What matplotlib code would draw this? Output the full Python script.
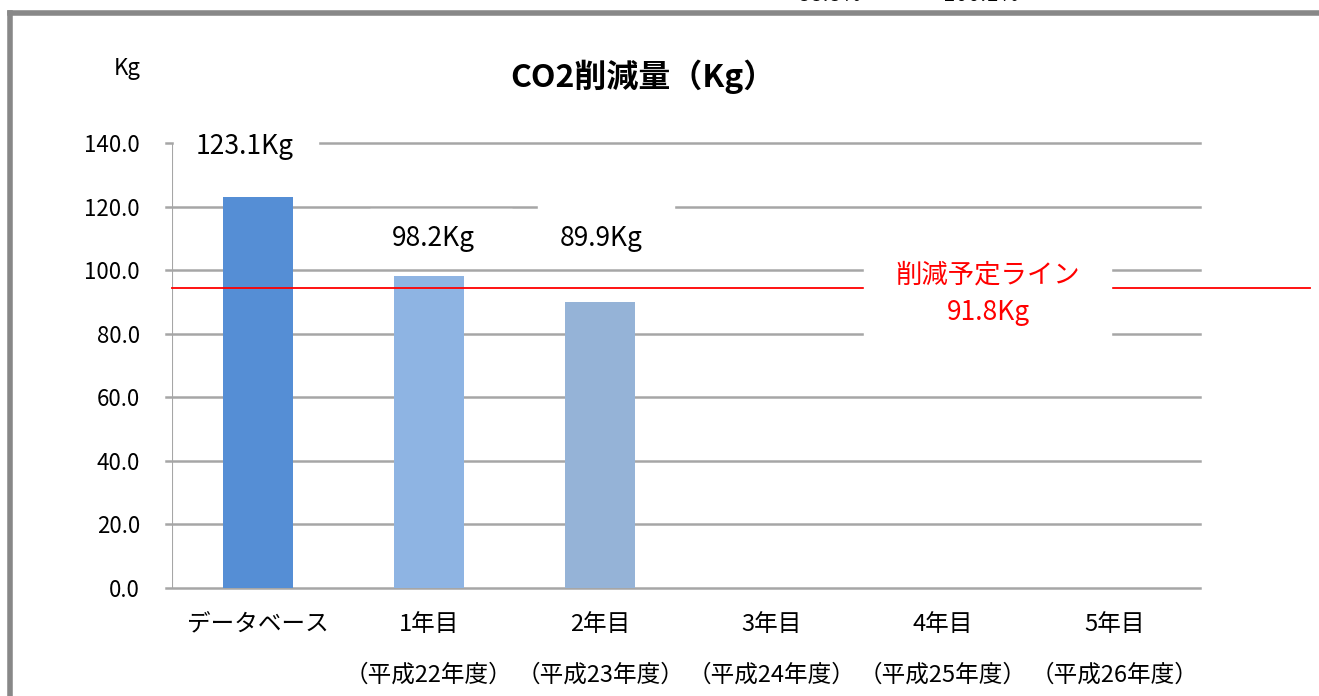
import matplotlib
matplotlib.use('Agg')
import matplotlib.pyplot as plt
from matplotlib.lines import Line2D
from matplotlib.patches import Rectangle

plt.rcParams['font.family'] = ['Noto Sans CJK JP', 'DejaVu Sans']

categories = ['データベース', '1年目', '2年目', '3年目', '4年目', '5年目']
sub_labels = ['', '（平成22年度）', '（平成23年度）', '（平成24年度）', '（平成25年度）', '（平成26年度）']
values = [123.1, 98.2, 89.9, None, None, None]
value_labels = ['123.1Kg', '98.2Kg', '89.9Kg']
bar_colors = ['#558ED5', '#8EB4E3', '#95B3D7']
yticks = [0, 20, 40, 60, 80, 100, 120, 140]
plan_line = 94.4
plan_text = '削減予定ライン\n91.8Kg'
top_texts = ['88.8%', '100.1%']

W, H = 1319, 696
fig = plt.figure(figsize=(W / 100, H / 100), dpi=100)

def fx(px):
    return px / W

def fy(py):
    return 1 - py / H

ax = fig.add_axes([fx(172), fy(588), fx(1200) - fx(172), fy(143) - fy(588)])
ax.set_xlim(-0.5, 5.5)
ax.set_ylim(0, 140)

# gridlines (drawn by hand so they start at the tick marks)
for v in yticks:
    ax.plot([-0.535, 5.5], [v, v], color='#A6A6A6', lw=1.8, clip_on=False, zorder=1)
ax.plot([-0.5, -0.5], [0, 140], color='#A6A6A6', lw=0.8, zorder=1)

for i, v in enumerate(values):
    if v is None:
        continue
    ax.bar(i, v, width=0.41, color=bar_colors[i], zorder=2)

# plan line runs past the plot area
ax.plot([-0.5, 6.14], [plan_line, plan_line], color='#FF0000', lw=1.3, clip_on=False, zorder=3)

for s in ax.spines.values():
    s.set_visible(False)
ax.set_yticks(yticks)
ax.set_yticklabels(['%.1f' % v for v in yticks], fontsize=16)
ax.tick_params(axis='y', length=0, pad=23)
ax.set_xticks(range(len(categories)))
ax.set_xticklabels(categories, fontsize=17)
ax.tick_params(axis='x', length=0, pad=18)

for i, s in enumerate(sub_labels):
    if s:
        fig.text(fx(172 + 171.3 * (i + 0.5)), fy(675), s, fontsize=17, ha='center', va='center')

# white label boxes that cut the gridlines, like the original
fig.patches.append(Rectangle((fx(174), fy(165)), fx(318) - fx(174), fy(130) - fy(165),
                             transform=fig.transFigure, color='white', zorder=5))
fig.patches.append(Rectangle((fx(370), fy(262)), fx(512) - fx(370), fy(209) - fy(262),
                             transform=fig.transFigure, color='white', zorder=5))
fig.patches.append(Rectangle((fx(538), fy(262)), fx(674) - fx(538), fy(204) - fy(262),
                             transform=fig.transFigure, color='white', zorder=5))
fig.patches.append(Rectangle((fx(864), fy(342)), fx(1111) - fx(864), fy(255) - fy(342),
                             transform=fig.transFigure, color='white', zorder=5))

label_pos = [(245, 147), (433, 238), (601, 238)]
for (x, y), t in zip(label_pos, value_labels):
    fig.text(fx(x), fy(y), t, fontsize=19, ha='center', va='center', zorder=6)

fig.text(fx(988), fy(294), plan_text, fontsize=19, color='#FF0000', ha='center', va='center',
         linespacing=1.5, zorder=6)

fig.text(fx(643), fy(77), 'CO2削減量（Kg）', fontsize=23, fontweight='bold', ha='center', va='center')
fig.text(fx(127), fy(68), 'Kg', fontsize=16, ha='center', va='center')

# cut off texts at the very top
fig.text(fx(830), fy(6), top_texts[0], fontsize=16, ha='center', va='bottom')
fig.text(fx(981), fy(6), top_texts[1], fontsize=16, ha='center', va='bottom')

# outer frame
fig.add_artist(Line2D([fx(10), 1.0], [fy(13), fy(13)], color='#888888', lw=4))
fig.add_artist(Line2D([fx(10), fx(10)], [fy(13), 0], color='#888888', lw=4))

fig.savefig('out.png', dpi=100)
